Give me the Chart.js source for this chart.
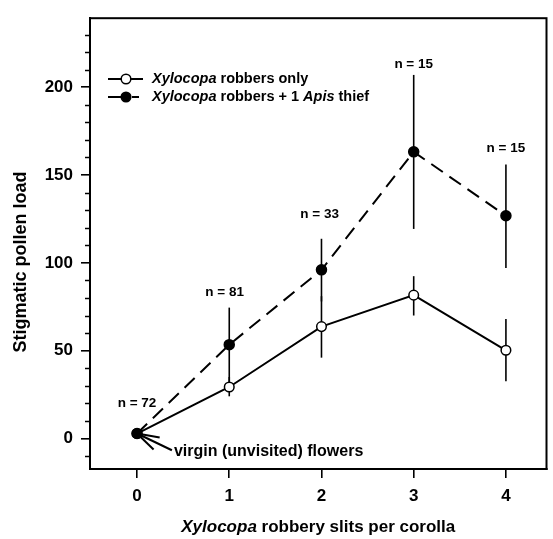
<!DOCTYPE html>
<html><head><meta charset="utf-8">
<script src="https://cdn.jsdelivr.net/npm/chart.js@4/dist/chart.umd.min.js"></script>
<style>html,body{margin:0;padding:0;background:#fff}#wrap{width:553px;height:539px}</style>
</head><body><div id="wrap"><canvas id="c" width="553" height="539"></canvas></div>
<script>
// ---- data ----
const slits = [0, 1, 2, 3, 4];
const robbersOnly     = [2.8, 29.3, 63.7, 81.6, 50.2];
const robbersOnlyLow  = [null, 24, 46, 70, 32.5];
const robbersOnlyHigh = [null, 35, 81, 92.4, 68];
const withApis        = [2.8, 53.4, 96, 163.2, 126.8];
const withApisLow     = [null, 32, 78, 119.3, 97];
const withApisHigh    = [null, 74.5, 113.7, 207, 156];
const sampleLabels = ['n = 72', 'n = 81', 'n = 33', 'n = 15', 'n = 15'];
const yTickValues = [0, 50, 100, 150, 200];
const yMinorValues = [-10, 10, 20, 30, 40, 60, 70, 80, 90, 110, 120, 130, 140, 160, 170, 180, 190, 210, 220, 230];
const seriesNames = ['robbers only', 'robbers + 1 '];

const FONT = "'Liberation Sans', Arial, Helvetica, sans-serif";

// annotation anchors (data coordinates)
const sampleAnchors = [[0, 20], [0.95, 83.5], [1.98, 127.7], [3, 213], [4, 165]];
const virginAnchor = [0.4, -7.3];

const errorBars = {
  id: 'errorBars',
  beforeDatasetsDraw(chart) {
    const {ctx, scales: {x, y}} = chart;
    ctx.save();
    ctx.strokeStyle = '#000';
    ctx.lineWidth = 1.6;
    const draw = (lo, hi) => {
      slits.forEach((s, i) => {
        if (lo[i] == null) return;
        const px = x.getPixelForValue(s);
        ctx.beginPath();
        ctx.moveTo(px, y.getPixelForValue(lo[i]));
        ctx.lineTo(px, y.getPixelForValue(hi[i]));
        ctx.stroke();
      });
    };
    draw(robbersOnlyLow, robbersOnlyHigh);
    draw(withApisLow, withApisHigh);
    ctx.restore();
  }
};

const decorations = {
  id: 'decorations',
  afterDraw(chart) {
    const {ctx, chartArea: a, scales: {x, y}} = chart;
    ctx.save();
    // frame
    ctx.strokeStyle = '#000';
    ctx.lineWidth = 2;
    ctx.strokeRect(a.left, a.top, a.right - a.left, a.bottom - a.top);
    // minor y ticks
    ctx.lineWidth = 1.5;
    yMinorValues.forEach(v => {
      const py = Math.round(y.getPixelForValue(v)) + 0.5;
      ctx.beginPath();
      ctx.moveTo(a.left - 5, py);
      ctx.lineTo(a.left, py);
      ctx.stroke();
    });
    // sample size labels
    ctx.fillStyle = '#000';
    ctx.font = `bold 13.5px ${FONT}`;
    ctx.textAlign = 'center';
    ctx.textBaseline = 'middle';
    sampleLabels.forEach((t, i) => {
      ctx.fillText(t, x.getPixelForValue(sampleAnchors[i][0]), y.getPixelForValue(sampleAnchors[i][1]));
    });
    // virgin flowers label + arrow
    const tx = x.getPixelForValue(virginAnchor[0]);
    const ty = y.getPixelForValue(virginAnchor[1]);
    ctx.font = `bold 16px ${FONT}`;
    ctx.textAlign = 'left';
    ctx.fillText('virgin (unvisited) flowers', tx, ty);
    const p0x = x.getPixelForValue(slits[0]);
    const p0y = y.getPixelForValue(withApis[0]);
    ctx.lineWidth = 2;
    ctx.beginPath();
    ctx.moveTo(tx - 2, ty - 1);
    ctx.lineTo(p0x, p0y);
    ctx.stroke();
    const ang = Math.atan2(ty - 1 - p0y, tx - 2 - p0x);
    [-0.27, 0.32].forEach(d => {
      ctx.beginPath();
      ctx.moveTo(p0x, p0y);
      ctx.lineTo(p0x + 23 * Math.cos(ang + d), p0y + 23 * Math.sin(ang + d));
      ctx.stroke();
    });
    // legend
    const lx0 = 108, lx1 = 143, mx = 126, textX = 152;
    const rows = [79, 97];
    const LF = 14.5;
    chart.data.datasets.forEach((ds, i) => {
      const ry = rows[i];
      ctx.strokeStyle = '#000';
      ctx.lineWidth = 1.8;
      ctx.beginPath();
      if (ds.borderDash) {
        ctx.moveTo(lx0, ry); ctx.lineTo(mx, ry);
        ctx.moveTo(mx + 6, ry); ctx.lineTo(mx + 13, ry);
      } else {
        ctx.moveTo(lx0, ry); ctx.lineTo(lx1, ry);
      }
      ctx.stroke();
      ctx.beginPath();
      ctx.arc(mx, ry, 4.8, 0, Math.PI * 2);
      ctx.fillStyle = ds.pointBackgroundColor;
      ctx.fill();
      ctx.lineWidth = 1.5;
      ctx.stroke();
      ctx.fillStyle = '#000';
      ctx.textAlign = 'left';
      ctx.textBaseline = 'middle';
      ctx.font = `italic bold ${LF}px ${FONT}`;
      ctx.fillText('Xylocopa', textX, ry);
      let w = ctx.measureText('Xylocopa ').width;
      ctx.font = `bold ${LF}px ${FONT}`;
      ctx.fillText(seriesNames[i], textX + w, ry);
      if (i === 1) {
        w += ctx.measureText(seriesNames[i]).width;
        ctx.font = `italic bold ${LF}px ${FONT}`;
        ctx.fillText('Apis', textX + w, ry);
        w += ctx.measureText('Apis ').width;
        ctx.font = `bold ${LF}px ${FONT}`;
        ctx.fillText('thief', textX + w, ry);
      }
    });
    // x-axis title
    ctx.font = `italic bold 17px ${FONT}`;
    const p1 = 'Xylocopa';
    const w1 = ctx.measureText(p1 + ' ').width;
    ctx.font = `bold 17px ${FONT}`;
    const p2 = 'robbery slits per corolla';
    const w2 = ctx.measureText(p2).width;
    const cx = (a.left + a.right) / 2;
    const sx = cx - (w1 + w2) / 2;
    ctx.textAlign = 'left';
    ctx.textBaseline = 'middle';
    ctx.font = `italic bold 17px ${FONT}`;
    ctx.fillText(p1, sx, 527);
    ctx.font = `bold 17px ${FONT}`;
    ctx.fillText(p2, sx + w1, 527);
    // y-axis title
    ctx.save();
    ctx.translate(21, 262);
    ctx.rotate(-Math.PI / 2);
    ctx.textAlign = 'center';
    ctx.textBaseline = 'middle';
    ctx.font = `bold 18px ${FONT}`;
    ctx.fillText('Stigmatic pollen load', 0, 0);
    ctx.restore();
    ctx.restore();
  }
};

new Chart(document.getElementById('c'), {
  type: 'line',
  data: {
    datasets: [
      {
        label: 'Xylocopa robbers only',
        data: slits.map((s, i) => ({x: s, y: robbersOnly[i]})),
        borderColor: '#000',
        borderWidth: 2,
        pointRadius: 4.8,
        pointBorderWidth: 1.5,
        pointBackgroundColor: '#fff',
        pointBorderColor: '#000',
        tension: 0,
        order: 2
      },
      {
        label: 'Xylocopa robbers + 1 Apis thief',
        data: slits.map((s, i) => ({x: s, y: withApis[i]})),
        borderColor: '#000',
        borderWidth: 2,
        borderDash: [14, 8],
        pointRadius: 5,
        pointBorderWidth: 1.5,
        pointBackgroundColor: '#000',
        pointBorderColor: '#000',
        tension: 0,
        order: 1
      }
    ]
  },
  options: {
    responsive: false,
    devicePixelRatio: 1,
    animation: false,
    layout: {padding: {top: 11, right: 5, left: 0, bottom: 0}},
    plugins: {legend: {display: false}, tooltip: {enabled: false}},
    scales: {
      x: {
        type: 'linear',
        min: -0.51,
        max: 4.44,
        afterBuildTicks: s => { s.ticks = slits.map(v => ({value: v})); },
        afterFit: s => { s.height = 70; },
        grid: {display: true, drawOnChartArea: false, drawTicks: true, tickLength: 9, color: '#000', lineWidth: 1.6},
        border: {display: true, color: '#000', width: 2},
        ticks: {color: '#000', padding: 8, font: {family: FONT, size: 17, weight: 'bold'}}
      },
      y: {
        type: 'linear',
        min: -17.4,
        max: 239.3,
        afterBuildTicks: s => { s.ticks = yTickValues.map(v => ({value: v})); },
        afterFit: s => { s.width = 90; },
        grid: {display: true, drawOnChartArea: false, drawTicks: true, tickLength: 9, color: '#000', lineWidth: 1.6},
        border: {display: true, color: '#000', width: 2},
        ticks: {color: '#000', padding: 8, font: {family: FONT, size: 17, weight: 'bold'}}
      }
    }
  },
  plugins: [errorBars, decorations]
});
</script>
</body></html>
